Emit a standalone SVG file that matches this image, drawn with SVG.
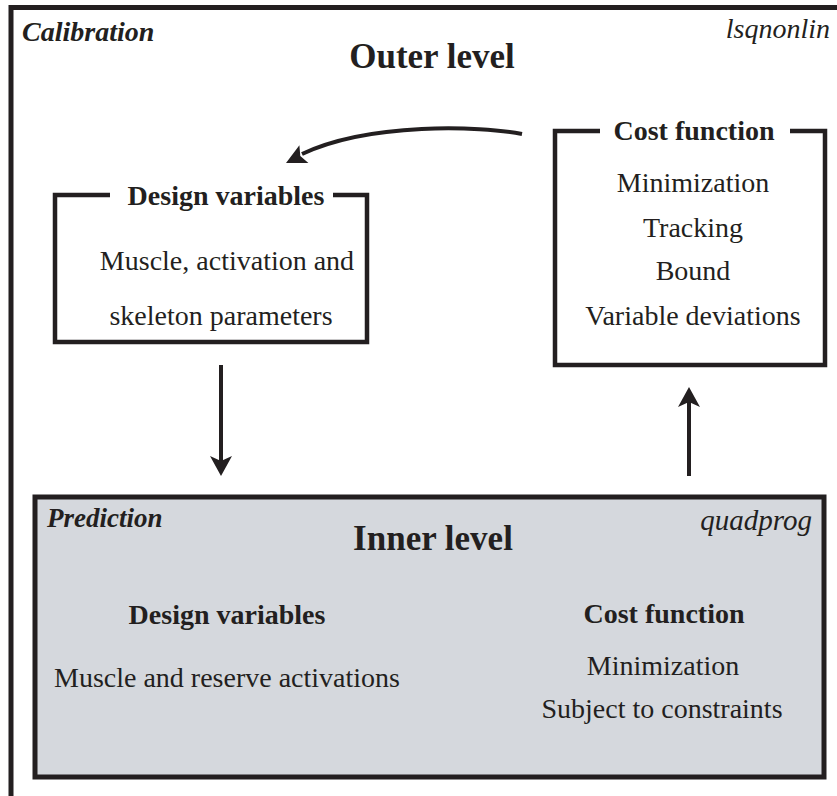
<svg xmlns="http://www.w3.org/2000/svg" width="837" height="796" viewBox="0 0 837 796">
<style>
text{fill:#231f20}
.b{font-weight:bold}
.bi{font-weight:bold;font-style:italic}
.i{font-style:italic}
.r{font-size:28px}
.box{fill:none;stroke:#231f20;stroke-width:4.5;stroke-linejoin:miter}
.conn{fill:none;stroke:#231f20;stroke-width:4}
.head{fill:#231f20}
</style>
<rect width="837" height="796" fill="#fff"/>
<g font-family="'Liberation Serif', Tinos, 'Times New Roman', 'DejaVu Serif', serif">
<g id="outer">
<path d="M11,796 L11,7.5 L837,7.5" fill="none" stroke="#231f20" stroke-width="5"/>
<text x="22" y="41" class="bi" font-size="28">Calibration</text>
<text x="830" y="38" class="i" font-size="28" text-anchor="end">lsqnonlin</text>
<text x="432" y="68" class="b" font-size="35" text-anchor="middle">Outer level</text>
</g>
<g id="design-variables-outer">
<path class="box" d="M110,195 L55,195 L55,342 L367,342 L367,195 L333,195"/>
<text x="226" y="205" class="b r" text-anchor="middle">Design variables</text>
<text x="227" y="270" class="r" text-anchor="middle">Muscle, activation and</text>
<text x="221" y="325" class="r" text-anchor="middle">skeleton parameters</text>
</g>
<g id="cost-function-outer">
<path class="box" d="M600,131 L555,131 L555,365 L825,365 L825,131 L790,131"/>
<text x="694" y="140" class="b r" text-anchor="middle">Cost function</text>
<text x="693" y="192" class="r" text-anchor="middle">Minimization</text>
<text x="693" y="237" class="r" text-anchor="middle">Tracking</text>
<text x="693" y="280" class="r" text-anchor="middle">Bound</text>
<text x="693" y="325" class="r" text-anchor="middle">Variable deviations</text>
</g>
<g id="inner">
<rect x="35" y="497" width="789" height="280" fill="#d5d8dd" stroke="#231f20" stroke-width="5"/>
<text x="47" y="527" class="bi" font-size="27">Prediction</text>
<text x="812" y="530" class="i" font-size="29" text-anchor="end">quadprog</text>
<text x="433" y="550" class="b" font-size="35" text-anchor="middle">Inner level</text>
<text x="227" y="624" class="b r" text-anchor="middle">Design variables</text>
<text x="227" y="687" class="r" text-anchor="middle">Muscle and reserve activations</text>
<text x="664" y="623" class="b r" text-anchor="middle">Cost function</text>
<text x="663" y="675" class="r" text-anchor="middle">Minimization</text>
<text x="662" y="718" class="r" text-anchor="middle">Subject to constraints</text>
</g>
</g>
<g id="connectors">
<path class="conn" d="M522,134 C480,126 370,122 302,154" stroke-width="5"/>
<path class="head" d="M286,163 L299.4,145.2 L300.3,155.9 L308.4,163 Z"/>
<line class="conn" x1="221" y1="365" x2="221" y2="462"/>
<path class="head" d="M210,456 L221,476 L232,456 L221,461 Z"/>
<line class="conn" x1="689" y1="476" x2="689" y2="400"/>
<path class="head" d="M678,407 L689,387 L700,407 L689,402 Z"/>
</g>
</svg>
